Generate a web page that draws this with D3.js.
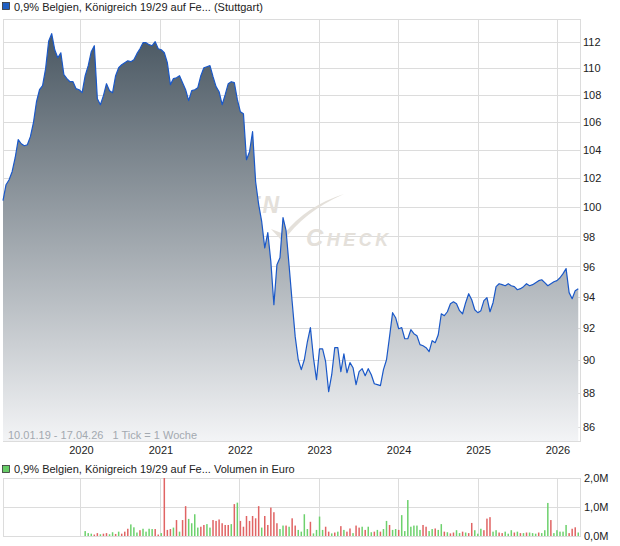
<!doctype html>
<html lang="de">
  <head>
    <meta charset="UTF-8" />
    <title>0,9% Belgien 19/29</title>
    <style>
      body { margin: 0; background: #fff; }
      text { font-family: "Liberation Sans", Arial, sans-serif; font-size: 11px; fill: #222; }
    </style>
  </head>
  <body>
    <div id="chart"></div>
    <script src="https://d3js.org/d3.v7.min.js"></script>
    <script>
      /* global d3 */

      // Kursverlauf, ein Wert alle zwei Wochen ab 10.01.2019
      const startDate = new Date(2019, 0, 10),
        endDate = new Date(2026, 3, 17),
        stepDays = 14;

      const prices = [
        100.44, 101.55, 101.9, 102.46, 103.45, 104.74, 104.45, 104.31, 104.38, 104.96,
        105.97, 107.51, 108.4, 108.7, 109.98, 112.07, 112.66, 111.42, 110.81, 111.19,
        109.53, 109.23, 109.0, 109.0, 108.48, 108.4, 108.18, 109.45, 110.21, 111.27,
        111.73, 107.73, 107.29, 107.96, 108.85, 108.33, 108.18, 109.45, 110.05, 110.28,
        110.43, 110.58, 110.51, 110.66, 111.12, 111.5, 111.96, 111.96, 111.81, 111.73,
        112.04, 111.5, 111.42, 111.19, 110.43, 108.78, 109.23, 109.3, 109.45, 108.93,
        108.4, 107.59, 108.33, 108.4, 108.55, 109.45, 110.05, 110.13, 110.21, 109.38,
        108.63, 108.25, 107.29, 108.03, 108.85, 109.0, 108.93, 107.66, 106.77, 106.63,
        103.31, 103.88, 105.32, 101.76, 100.17, 99.0, 97.24, 98.26, 96.32, 93.51,
        96.12, 96.58, 99.28, 98.39, 96.05, 93.7, 91.48, 90.04, 89.43, 90.04,
        91.16, 92.05, 90.16, 88.81, 90.72, 90.72, 89.92, 88.09, 89.12, 90.79,
        90.79, 89.31, 90.41, 89.24, 89.86, 89.55, 88.51, 89.31, 89.49, 89.06,
        89.49, 89.12, 88.57, 88.51, 88.45, 89.43, 90.04, 91.48, 93.0, 92.68,
        91.98, 92.05, 91.35, 91.35, 91.92, 91.67, 91.54, 90.98, 90.91, 90.79,
        90.54, 91.23, 91.1, 91.6, 92.93, 92.81, 93.06, 93.57, 93.7, 93.57,
        93.13, 92.93, 93.64, 94.22, 93.83, 93.19, 93.0, 93.13, 93.77, 93.96,
        93.06, 93.64, 94.68, 94.87, 94.81, 94.74, 94.87, 94.74, 94.68, 94.48,
        94.55, 94.68, 94.87, 94.74, 94.81, 94.94, 95.07, 95.13, 94.94, 94.74,
        94.87, 95.0, 95.07, 95.26, 95.53, 95.86, 94.29, 93.9, 94.42, 94.55,
      ];

      // Volumen in Mio. Euro, gleiche Zeitpunkte
      const volumes = [
        0, 0, 0, 0, 0, 0, 0, 0, 0, 0,
        0, 0, 0, 0, 0, 0, 0, 0, 0, 0,
        0, 0, 0, 0, 0, 0, 0, 0.17, 0.1, 0.08,
        0.05, 0.1, 0.06, 0.08, 0.1, 0.06, 0.13, 0.07, 0.15, 0.08,
        0.15, 0.25, 0.4, 0.3, 0.12, 0.2, 0.25, 0.15, 0.25, 0.24,
        0.24, 0.05, 0.1, 2.0, 0.21, 0.24, 0.29, 0.55, 0.15, 0.55,
        1.03, 0.59, 0.44, 0.75, 0.29, 0.32, 0.38, 0.41, 0.29, 0.55,
        0.52, 0.57, 0.44, 0.38, 0.38, 0.41, 1.1, 1.15, 0.52, 0.32,
        0.69, 0.52, 0.69, 0.61, 1.03, 0.29, 0.69, 0.38, 0.98, 0.82,
        0.44, 0.24, 0.36, 0.36, 0.32, 0.61, 0.36, 0.21, 0.15, 0.75,
        0.24, 0.49, 0.09, 0.21, 0.67, 0.21, 0.32, 0.15, 0.09, 0.12,
        0.15, 0.34, 0.21, 0.15, 0.26, 0.1, 0.36, 0.29, 0.32, 0.21,
        0.32, 0.13, 0.15, 0.21, 0.15, 0.24, 0.52, 0.38, 0.21, 0.24,
        0.21, 0.72, 0.17, 1.24, 0.32, 0.36, 0.36, 0.21, 0.38, 0.32,
        0.17, 0.24, 0.26, 0.21, 0.41, 0.15, 0.13, 0.09, 0.12, 0.2,
        0.1, 0.15, 0.12, 0.1, 0.45, 0.2, 0.08, 0.25, 0.2, 0.6,
        0.65, 0.15, 0.2, 0.12, 0.1, 0.15, 0.08, 0.2, 0.12, 0.15,
        0.1, 0.1, 0.12, 0.12, 0.1, 0.08, 0.12, 0.1, 0.2, 1.14,
        0.55, 0.1, 0.2, 0.15, 0.15, 0.38, 0.1, 0.25, 0.3, 0.12,
      ];
      // g = steigend (grün), r = fallend (rot)
      const volDir = (
        "----------" + "----------" + "-------ggg" + "rrgrrggrgr" + "rrgggrgggg" +
        "rrgrrrgrgr" + "rggggrrggr" + "rrrrrgrgrr" + "rrrrrgrrrr" + "rggrgrrggg" +
        "grggggrrgr" + "grgrrgrrgr" + "ggrgrggrgg" + "rgggggggrr" + "ggrggrgrrg" +
        "grgrrgggrr" + "rggrrgggrg" + "rgrgggrggg" + "rgggggrrrg"
      ).split("");

      const priceTicks = [86, 88, 90, 92, 94, 96, 98, 100, 102, 104, 106, 108, 110, 112];
      const yearTicks = [2020, 2021, 2022, 2023, 2024, 2025, 2026];
      const volTicks = [0, 1, 2];
      const volTickLabels = ["0,0M", "1,0M", "2,0M"];

      const titleText = "0,9% Belgien, Königreich 19/29 auf Fe... (Stuttgart)";
      const volTitleText = "0,9% Belgien, Königreich 19/29 auf Fe... Volumen in Euro";
      const rangeText = "10.01.19 - 17.04.26   1 Tick = 1 Woche";

      const data = prices.map((p, i) => ({
        date: d3.timeDay.offset(startDate, i * stepDays),
        price: p,
        vol: volumes[i],
        dir: volDir[i],
      }));

      const width = 620,
        height = 546;
      const plot = { left: 3, right: 580, top: 19, bottom: 441 };
      const vplot = { top: 478, bottom: 536 };
      const gridColor = "#dcdcdc";

      const svg = d3
        .select("#chart")
        .append("svg")
        .attr("width", width)
        .attr("height", height)
        .attr("viewBox", [0, 0, width, height]);

      const x = d3.scaleTime().domain([startDate, endDate]).range([plot.left, plot.right]);
      const y = d3.scaleLog().domain([85.15, 113.8]).range([plot.bottom, plot.top]);
      const yv = d3.scaleLinear().domain([0, 2]).range([vplot.bottom, vplot.top]);
      const yearDate = (yr) => new Date(yr, 0, 1);

      // Legende oben
      svg.append("rect").attr("x", 2.5).attr("y", 2.5).attr("width", 7).attr("height", 7)
        .attr("fill", "#1f5fc4").attr("stroke", "#333").attr("stroke-width", 0.8);
      svg.append("text").attr("x", 14).attr("y", 10.5).text(titleText);

      // Gitter Kurs
      const grid = svg.append("g");
      grid.selectAll("line.h").data(priceTicks).join("line").attr("class", "h")
        .attr("x1", plot.left).attr("x2", plot.right)
        .attr("y1", (d) => Math.round(y(d)) + 0.5).attr("y2", (d) => Math.round(y(d)) + 0.5)
        .attr("stroke", gridColor);
      grid.selectAll("line.v").data(yearTicks).join("line").attr("class", "v")
        .attr("x1", (d) => Math.round(x(yearDate(d))) + 0.5).attr("x2", (d) => Math.round(x(yearDate(d))) + 0.5)
        .attr("y1", plot.top).attr("y2", plot.bottom)
        .attr("stroke", gridColor);
      grid.append("rect").attr("x", plot.left + 0.5).attr("y", plot.top + 0.5)
        .attr("width", plot.right - plot.left).attr("height", plot.bottom - plot.top)
        .attr("fill", "none").attr("stroke", gridColor);

      // Wasserzeichen
      const wmColor = "#e4e0da";
      const wm = svg.append("g").attr("fill", wmColor);
      wm.append("text").attr("x", 281).attr("y", 213).attr("text-anchor", "end")
        .style("font-size", "23px").style("font-style", "italic").style("font-weight", "bold")
        .style("fill", wmColor).style("letter-spacing", "2px")
        .text("AKTIEN");
      wm.append("path").attr("d", "M271,229 L283,242 Q303,212 344,194 Q306,206 284,234 Z");
      const ck = wm.append("text").attr("x", 306).attr("y", 246)
        .style("font-style", "italic").style("font-weight", "bold")
        .style("fill", wmColor).style("letter-spacing", "3.5px");
      ck.append("tspan").style("font-size", "24px").text("C");
      ck.append("tspan").style("font-size", "18px").text("HECK");

      // Fläche + Linie
      const defs = svg.append("defs");
      const grad = defs.append("linearGradient").attr("id", "areaGrad")
        .attr("gradientUnits", "userSpaceOnUse")
        .attr("x1", 0).attr("x2", 0).attr("y1", plot.top).attr("y2", plot.bottom);
      grad.append("stop").attr("offset", 0).attr("stop-color", "#44525d");
      grad.append("stop").attr("offset", 1).attr("stop-color", "#f3f4f6");

      const area = d3.area().x((d) => x(d.date)).y0(plot.bottom).y1((d) => y(d.price));
      const line = d3.line().x((d) => x(d.date)).y((d) => y(d.price));

      svg.append("path").datum(data).attr("d", area).attr("fill", "url(#areaGrad)");
      svg.append("path").datum(data).attr("d", line)
        .attr("fill", "none").attr("stroke", "#1a58c8").attr("stroke-width", 1.2)
        .attr("stroke-linejoin", "round");

      svg.append("text").attr("x", 8).attr("y", 438.5).style("fill", "#a3a9b0")
        .style("white-space", "pre").attr("xml:space", "preserve")
        .text(rangeText);

      // Achse rechts
      svg.append("g").attr("transform", `translate(${plot.right}, 0)`)
        .call(d3.axisRight(y).tickValues(priceTicks).tickSize(0).tickPadding(3).tickFormat(d3.format("d")))
        .call((g) => g.select(".domain").remove())
        .call((g) => g.selectAll("text").style("font-size", "11px").style("font-family", null).attr("fill", "#222"));

      // Jahre
      svg.selectAll("text.year").data(yearTicks).join("text").attr("class", "year")
        .attr("x", (d) => x(yearDate(d)) + 1).attr("y", 453.5).attr("text-anchor", "middle")
        .text((d) => d);

      // Volumen
      svg.append("rect").attr("x", 2.5).attr("y", 465.5).attr("width", 7).attr("height", 7)
        .attr("fill", "#66cc66").attr("stroke", "#333").attr("stroke-width", 0.8);
      svg.append("text").attr("x", 14).attr("y", 473).text(volTitleText);

      const vgrid = svg.append("g");
      vgrid.selectAll("line.h").data(volTicks).join("line").attr("class", "h")
        .attr("x1", plot.left).attr("x2", plot.right)
        .attr("y1", (d) => Math.round(yv(d)) + 0.5).attr("y2", (d) => Math.round(yv(d)) + 0.5)
        .attr("stroke", gridColor);
      vgrid.selectAll("line.v").data(yearTicks).join("line").attr("class", "v")
        .attr("x1", (d) => Math.round(x(yearDate(d))) + 0.5).attr("x2", (d) => Math.round(x(yearDate(d))) + 0.5)
        .attr("y1", vplot.top).attr("y2", vplot.bottom)
        .attr("stroke", gridColor);
      vgrid.append("rect").attr("x", plot.left + 0.5).attr("y", vplot.top + 0.5)
        .attr("width", plot.right - plot.left).attr("height", vplot.bottom - vplot.top)
        .attr("fill", "none").attr("stroke", gridColor);

      svg.append("g").selectAll("rect").data(data.filter((d) => d.vol > 0)).join("rect")
        .attr("x", (d) => x(d.date) - 0.75)
        .attr("width", 1.5)
        .attr("y", (d) => yv(d.vol))
        .attr("height", (d) => yv(0) - yv(d.vol))
        .attr("fill", (d) => (d.dir === "g" ? "#6dd16d" : "#e06464"));

      svg.append("g").attr("transform", `translate(${plot.right}, 0)`)
        .call(d3.axisRight(yv).tickValues(volTicks).tickSize(0).tickPadding(4)
          .tickFormat((d, i) => volTickLabels[i]))
        .call((g) => g.select(".domain").remove())
        .call((g) => g.selectAll("text").style("font-size", "11px").style("font-family", null).attr("fill", "#222"));
    </script>
  </body>
</html>
